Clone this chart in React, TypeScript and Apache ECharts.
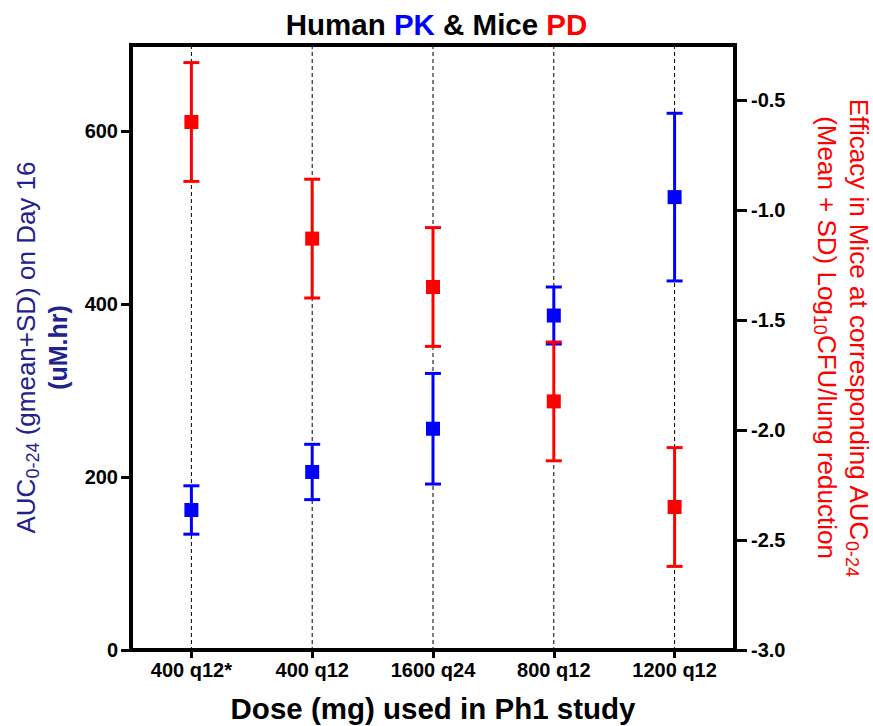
import React, { useEffect, useRef } from "react";
import * as echarts from "echarts";

const categories = ["400 q12*", "400 q12", "1600 q24", "800 q12", "1200 q12"];
const pkMean = [162, 206, 256, 387, 524];
const pkSd = [28, 32, 64, 33, 97];
const pdMean = [-0.6, -1.13, -1.35, -1.87, -2.35];
const pdSd = [0.27, 0.27, 0.27, 0.27, 0.27];
const leftTicks = [0, 200, 400, 600];
const rightTicks = [-3.0, -2.5, -2.0, -1.5, -1.0, -0.5];

const BLUE = "#0000ff";
const RED = "#ff0000";
const NAVY = "#22228c";
const FONT = "Arial, 'Liberation Sans', sans-serif";

function errorBarRenderer(color: string) {
  return (params: any, api: any) => {
    const x = api.value(0);
    const lo = api.coord([x, api.value(1)]);
    const hi = api.coord([x, api.value(2)]);
    const hw = 8;
    const style = { stroke: color, lineWidth: 3, fill: null };
    return {
      type: "group",
      children: [
        { type: "line", shape: { x1: lo[0], y1: lo[1], x2: hi[0], y2: hi[1] }, style },
        { type: "line", shape: { x1: lo[0] - hw, y1: lo[1], x2: lo[0] + hw, y2: lo[1] }, style },
        { type: "line", shape: { x1: hi[0] - hw, y1: hi[1], x2: hi[0] + hw, y2: hi[1] }, style },
      ],
    };
  };
}

function guideRenderer(params: any, api: any) {
  const p = api.coord([api.value(0), 0]);
  const cs = params.coordSys;
  return {
    type: "line",
    shape: { x1: p[0], y1: cs.y, x2: p[0], y2: cs.y + cs.height },
    style: { stroke: "#000", lineWidth: 1, lineDash: [4, 3], fill: null },
  };
}

export default function App() {
  const ref = useRef<HTMLDivElement>(null);
  useEffect(() => {
    const chart = echarts.init(ref.current!, null, { renderer: "svg" });
    const pkErr = pkMean.map((m, i) => [i, m - pkSd[i], m + pkSd[i]]);
    const pdErr = pdMean.map((m, i) => [i, m - pdSd[i], m + pdSd[i]]);
    const guides = categories.map((c, i) => [i]);
    const option: any = {
      animation: false,
      backgroundColor: "#ffffff",
      textStyle: { fontFamily: FONT },
      title: {
        text: "Human {pk|PK} & Mice {pd|PD}",
        left: "center",
        top: 4,
        textStyle: {
          fontFamily: FONT,
          fontSize: 29.5,
          fontWeight: "bold",
          color: "#000",
          rich: {
            pk: { fontFamily: FONT, fontSize: 29.5, fontWeight: "bold", color: BLUE },
            pd: { fontFamily: FONT, fontSize: 29.5, fontWeight: "bold", color: RED },
          },
        },
      },
      grid: {
        left: 131,
        right: 138,
        top: 45,
        bottom: 76,
        show: true,
        borderColor: "#000",
        borderWidth: 4,
        backgroundColor: "transparent",
        containLabel: false,
        outerBoundsMode: "none",
      },
      xAxis: {
        type: "category",
        data: categories,
        boundaryGap: true,
        axisLine: { show: true, lineStyle: { color: "#000", width: 4 } },
        axisTick: { show: true, alignWithLabel: true, length: 8, lineStyle: { color: "#000", width: 3 } },
        axisLabel: { color: "#000", fontFamily: FONT, fontSize: 20, fontWeight: "bold", margin: 10 },
        splitLine: { show: false },
        name: "Dose (mg) used in Ph1 study",
        nameLocation: "middle",
        nameGap: 43,
        nameTextStyle: { color: "#000", fontFamily: FONT, fontSize: 29.5, fontWeight: "bold" },
      },
      yAxis: [
        {
          type: "value",
          min: 0,
          max: 700,
          interval: 200,
          position: "left",
          axisLine: { show: true, lineStyle: { color: "#000", width: 4 } },
          axisTick: { show: true, length: 10, customValues: leftTicks, lineStyle: { color: "#000", width: 3 } },
          axisLabel: {
            color: "#000",
            fontFamily: FONT,
            fontSize: 20,
            fontWeight: "bold",
            margin: 13,
            customValues: leftTicks,
          },
          splitLine: { show: false },
          name: "{n|AUC}{s|0-24}{n| (gmean+SD) on Day 16}\n{b|(uM.hr)}",
          nameLocation: "middle",
          nameRotate: 90,
          nameGap: 56,
          nameTextStyle: {
            color: NAVY,
            fontFamily: FONT,
            fontSize: 26,
            lineHeight: 32,
            rich: {
              n: { fontFamily: FONT, fontSize: 26, color: NAVY, lineHeight: 32 },
              s: { fontFamily: FONT, fontSize: 18, color: NAVY, lineHeight: 22, verticalAlign: "bottom" },
              b: { fontFamily: FONT, fontSize: 25, color: NAVY, lineHeight: 32, fontWeight: "bold" },
            },
          },
        },
        {
          type: "value",
          min: -3,
          max: -0.25,
          interval: 0.5,
          position: "right",
          axisLine: { show: true, lineStyle: { color: "#000", width: 4 } },
          axisTick: { show: true, length: 12, customValues: rightTicks, lineStyle: { color: "#000", width: 3 } },
          axisLabel: {
            color: "#000",
            fontFamily: FONT,
            fontSize: 20,
            fontWeight: "bold",
            margin: 16,
            customValues: rightTicks,
            formatter: (v: number) => v.toFixed(1),
          },
          splitLine: { show: false },
          name:
            "{n|Efficacy in Mice at corresponding AUC}{s|0-24}\n{n|(Mean + SD) Log}{s|10}{n|CFU/lung reduction}",
          nameLocation: "middle",
          nameRotate: -90,
          nameGap: 76,
          nameTextStyle: {
            color: RED,
            fontFamily: FONT,
            fontSize: 26,
            lineHeight: 32,
            padding: [0, 20, 0, 0],
            rich: {
              n: { fontFamily: FONT, fontSize: 26, color: RED, lineHeight: 32 },
              s: { fontFamily: FONT, fontSize: 18, color: RED, lineHeight: 22, verticalAlign: "bottom" },
            },
          },
        },
      ],
      series: [
        {
          name: "guides",
          type: "custom",
          data: guides,
          renderItem: guideRenderer,
          silent: true,
          z: 1,
        },
        {
          name: "PK error",
          type: "custom",
          yAxisIndex: 0,
          data: pkErr,
          renderItem: errorBarRenderer(BLUE),
          z: 3,
        },
        {
          name: "PK",
          type: "scatter",
          yAxisIndex: 0,
          data: pkMean,
          symbol: "rect",
          symbolSize: 14,
          itemStyle: { color: BLUE, opacity: 1 },
          z: 4,
        },
        {
          name: "PD error",
          type: "custom",
          yAxisIndex: 1,
          data: pdErr,
          renderItem: errorBarRenderer(RED),
          z: 5,
        },
        {
          name: "PD",
          type: "scatter",
          yAxisIndex: 1,
          data: pdMean,
          symbol: "rect",
          symbolSize: 14,
          itemStyle: { color: RED, opacity: 1 },
          z: 6,
        },
      ],
    };
    chart.setOption(option);
    return () => chart.dispose();
  }, []);
  return <div ref={ref} style={{ width: 873, height: 726, position: "absolute", left: 0, top: 0 }} />;
}
